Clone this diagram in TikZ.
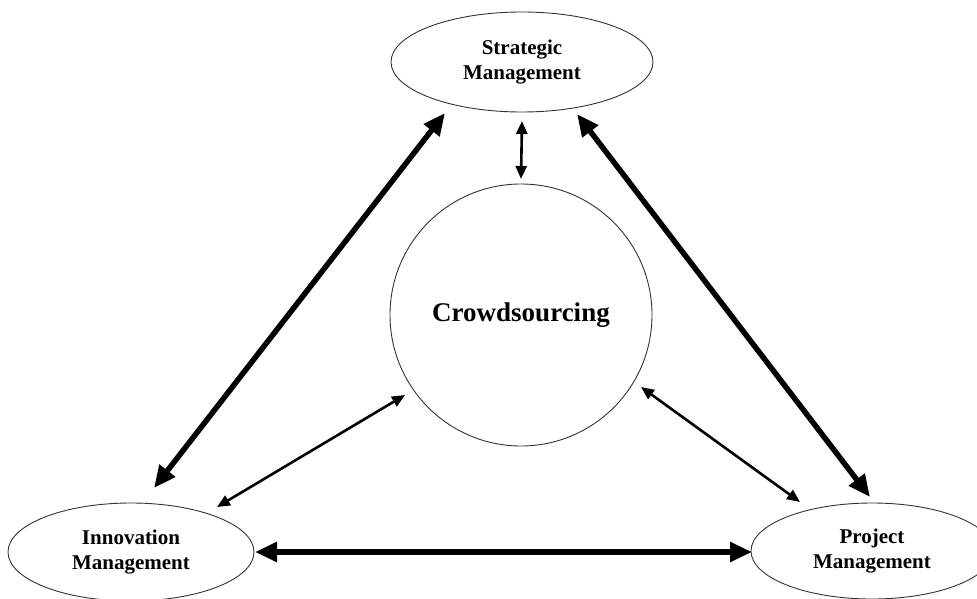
\documentclass[tikz,border=0pt]{standalone}
\usepackage{fontspec}
\setmainfont{Liberation Serif}
\usetikzlibrary{arrows.meta,calc,shapes.geometric}

\tikzset{
  field/.style={draw=black!80, line width=0.9pt, ellipse, inner sep=0pt,
    align=center, font=\fontsize{21}{25}\selectfont\bfseries},
  hub/.style={draw=black!80, line width=0.9pt, circle, inner sep=0pt,
    minimum size=262pt, font=\fontsize{27}{30}\selectfont\bfseries},
  strong/.style={line width=5.5pt,
    {Triangle[length=22pt,width=19pt]}-{Triangle[length=22pt,width=19pt]}},
  weak/.style={line width=2.6pt,
    {Triangle[length=13pt,width=11pt]}-{Triangle[length=13pt,width=11pt]}}
}

\begin{document}
\begin{tikzpicture}[x=1pt,y=-1pt]
  \useasboundingbox (0,0) rectangle (977,599);

  % the four fields
  \node[field, minimum width=262pt, minimum height=100pt] (strat) at (522,62)
    {Strategic\\Management};
  \node[hub] (crowd) at (521,315) {Crowdsourcing};
  \node[field, minimum width=246pt, minimum height=98pt] (innov) at (131,552)
    {Innovation\\Management};
  \node[field, minimum width=242pt, minimum height=96pt] (proj) at (872,551)
    {Project\\Management};

  % links between the management fields
  \draw[strong] ($(strat)+(-77,51)$) -- ($(innov)+(23,-64)$);
  \draw[strong] ($(strat)+(55,52)$) -- ($(proj)+(-2,-54)$);
  \draw[strong] ($(innov)+(124,0)$) -- ($(proj)+(-120,1)$);

  % links to crowdsourcing
  \draw[weak] ($(strat)+(0,59)$) -- ($(crowd)+(0,-136)$);
  \draw[weak] ($(innov)+(86,-45)$) -- ($(crowd)+(-116,80)$);
  \draw[weak] ($(crowd)+(120,72)$) -- ($(proj)+(-72,-49)$);
\end{tikzpicture}
\end{document}
